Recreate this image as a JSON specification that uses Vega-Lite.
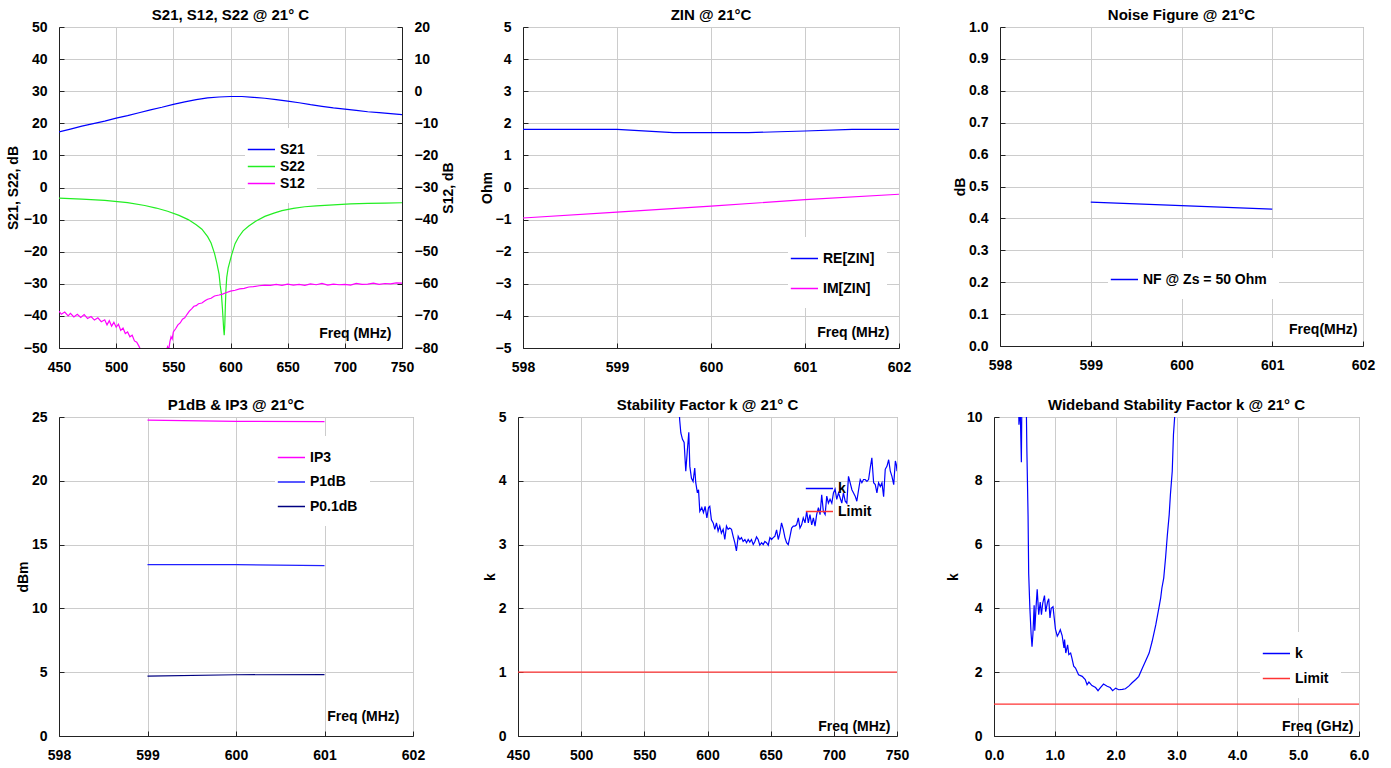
{
  "$schema": "https://vega.github.io/schema/vega-lite/v6.json",
  "background": "white",
  "padding": {"left": 5, "top": 7, "right": 5, "bottom": 5},
  "config": {
    "font": "Liberation Sans",
    "view": {"stroke": "#8c8c8c"},
    "title": {"fontSize": 15, "fontWeight": "bold", "color": "#000", "offset": -3, "font": "Liberation Sans"},
    "axis": {"labelFont": "Liberation Sans", "labelFontSize": 14, "labelFontWeight": "bold", "labelColor": "#000", "titleFont": "Liberation Sans", "titleFontSize": 14, "titleFontWeight": "bold", "titleColor": "#000", "gridColor": "#cccccc", "domainColor": "#222", "tickColor": "#222", "tickSize": -5, "labelPadding": 17, "labelFlush": false, "labelOverlap": false, "titlePadding": 1},
    "axisX": {"labelPadding": 17, "titleAlign": "right", "titleBaseline": "alphabetic", "titleAngle": 0},
    "legend": {"orient": "none", "title": null, "fillColor": "white", "padding": 12, "symbolType": "M-2.2,0H1", "symbolSize": 289, "symbolStrokeWidth": 1.5, "labelFont": "Liberation Sans", "labelFontSize": 14, "labelFontWeight": "bold", "labelColor": "#000", "labelOffset": 4, "zindex": 0}
  },
  "datasets": {
    "p1a": [
      {"f":450,"v":17.3,"s":"S21"},{"f":460,"v":18.2,"s":"S21"},{"f":470,"v":19.1,"s":"S21"},{"f":480,"v":19.9,"s":"S21"},{"f":490,"v":20.7,"s":"S21"},{"f":500,"v":21.6,"s":"S21"},{"f":510,"v":22.4,"s":"S21"},{"f":520,"v":23.3,"s":"S21"},{"f":530,"v":24.2,"s":"S21"},{"f":540,"v":25.0,"s":"S21"},{"f":550,"v":25.9,"s":"S21"},{"f":560,"v":26.7,"s":"S21"},{"f":570,"v":27.4,"s":"S21"},{"f":580,"v":27.9,"s":"S21"},{"f":590,"v":28.2,"s":"S21"},{"f":600,"v":28.35,"s":"S21"},{"f":610,"v":28.35,"s":"S21"},{"f":620,"v":28.1,"s":"S21"},{"f":630,"v":27.8,"s":"S21"},{"f":640,"v":27.4,"s":"S21"},{"f":650,"v":26.9,"s":"S21"},{"f":660,"v":26.4,"s":"S21"},{"f":670,"v":25.8,"s":"S21"},{"f":680,"v":25.3,"s":"S21"},{"f":690,"v":24.8,"s":"S21"},{"f":700,"v":24.4,"s":"S21"},{"f":710,"v":24.0,"s":"S21"},{"f":720,"v":23.6,"s":"S21"},{"f":730,"v":23.3,"s":"S21"},{"f":740,"v":23.0,"s":"S21"},{"f":750,"v":22.7,"s":"S21"},
      {"f":450,"v":-3.3,"s":"S22"},{"f":470,"v":-3.6,"s":"S22"},{"f":490,"v":-4.0,"s":"S22"},{"f":510,"v":-4.7,"s":"S22"},{"f":525,"v":-5.6,"s":"S22"},{"f":535,"v":-6.4,"s":"S22"},{"f":545,"v":-7.4,"s":"S22"},{"f":555,"v":-8.7,"s":"S22"},{"f":563,"v":-10,"s":"S22"},{"f":570,"v":-11.6,"s":"S22"},{"f":575,"v":-13,"s":"S22"},{"f":580,"v":-15.3,"s":"S22"},{"f":583,"v":-17.3,"s":"S22"},{"f":586,"v":-20.5,"s":"S22"},{"f":588,"v":-23.5,"s":"S22"},{"f":590,"v":-27,"s":"S22"},{"f":591,"v":-30.5,"s":"S22"},{"f":592,"v":-33,"s":"S22"},{"f":593,"v":-38,"s":"S22"},{"f":594,"v":-44,"s":"S22"},{"f":594.5,"v":-46,"s":"S22"},{"f":595,"v":-43,"s":"S22"},{"f":595.5,"v":-37,"s":"S22"},{"f":596,"v":-32,"s":"S22"},{"f":596.7,"v":-28,"s":"S22"},{"f":598,"v":-25,"s":"S22"},{"f":601,"v":-21,"s":"S22"},{"f":604,"v":-17.5,"s":"S22"},{"f":607,"v":-15.5,"s":"S22"},{"f":611,"v":-13.5,"s":"S22"},{"f":616,"v":-12,"s":"S22"},{"f":622,"v":-10.5,"s":"S22"},{"f":630,"v":-9,"s":"S22"},{"f":638,"v":-8,"s":"S22"},{"f":645,"v":-7.2,"s":"S22"},{"f":655,"v":-6.5,"s":"S22"},{"f":665,"v":-6,"s":"S22"},{"f":675,"v":-5.7,"s":"S22"},{"f":690,"v":-5.4,"s":"S22"},{"f":705,"v":-5.1,"s":"S22"},{"f":720,"v":-4.95,"s":"S22"},{"f":735,"v":-4.85,"s":"S22"},{"f":750,"v":-4.75,"s":"S22"}
    ],
    "p1b": [
      {"f":450,"v":-68.5,"s":"S12"},{"f":452,"v":-69.5,"s":"S12"},{"f":455,"v":-68.8,"s":"S12"},{"f":458,"v":-70,"s":"S12"},{"f":460,"v":-69.2,"s":"S12"},{"f":463,"v":-70.3,"s":"S12"},{"f":466,"v":-69.5,"s":"S12"},{"f":469,"v":-70.5,"s":"S12"},{"f":472,"v":-69.6,"s":"S12"},{"f":475,"v":-70.8,"s":"S12"},{"f":478,"v":-70.2,"s":"S12"},{"f":481,"v":-71.3,"s":"S12"},{"f":484,"v":-70.6,"s":"S12"},{"f":487,"v":-71.8,"s":"S12"},{"f":490,"v":-71.2,"s":"S12"},{"f":492,"v":-72.8,"s":"S12"},{"f":494,"v":-71.5,"s":"S12"},{"f":496,"v":-73.2,"s":"S12"},{"f":498,"v":-72,"s":"S12"},{"f":500,"v":-73.5,"s":"S12"},{"f":502,"v":-72.6,"s":"S12"},{"f":504,"v":-74.5,"s":"S12"},{"f":506,"v":-73.8,"s":"S12"},{"f":508,"v":-75.5,"s":"S12"},{"f":510,"v":-75,"s":"S12"},{"f":512,"v":-76.5,"s":"S12"},{"f":514,"v":-76,"s":"S12"},{"f":516,"v":-77.8,"s":"S12"},{"f":518,"v":-78.2,"s":"S12"},{"f":520,"v":-79.5,"s":"S12"},{"f":522,"v":-81,"s":"S12"},{"f":526,"v":-84,"s":"S12"},{"f":532,"v":-86,"s":"S12"},{"f":538,"v":-85,"s":"S12"},{"f":542,"v":-82,"s":"S12"},{"f":544,"v":-80.5,"s":"S12"},{"f":545,"v":-79.6,"s":"S12"},{"f":546,"v":-80.5,"s":"S12"},{"f":547,"v":-78,"s":"S12"},{"f":548,"v":-76.5,"s":"S12"},{"f":549,"v":-77.2,"s":"S12"},{"f":550,"v":-75,"s":"S12"},{"f":552,"v":-74,"s":"S12"},{"f":554,"v":-72.8,"s":"S12"},{"f":556,"v":-72.2,"s":"S12"},{"f":558,"v":-71,"s":"S12"},{"f":560,"v":-70.6,"s":"S12"},{"f":562,"v":-69.5,"s":"S12"},{"f":564,"v":-68.5,"s":"S12"},{"f":566,"v":-67.8,"s":"S12"},{"f":568,"v":-67,"s":"S12"},{"f":570,"v":-66.8,"s":"S12"},{"f":572,"v":-66.2,"s":"S12"},{"f":575,"v":-66,"s":"S12"},{"f":578,"v":-65.2,"s":"S12"},{"f":580,"v":-64.8,"s":"S12"},{"f":583,"v":-64.5,"s":"S12"},{"f":586,"v":-63.8,"s":"S12"},{"f":590,"v":-63.5,"s":"S12"},{"f":593,"v":-63.2,"s":"S12"},{"f":596,"v":-62.8,"s":"S12"},{"f":600,"v":-62.3,"s":"S12"},{"f":604,"v":-62,"s":"S12"},{"f":608,"v":-61.6,"s":"S12"},{"f":612,"v":-61.4,"s":"S12"},{"f":616,"v":-61,"s":"S12"},{"f":620,"v":-60.9,"s":"S12"},{"f":625,"v":-60.6,"s":"S12"},{"f":630,"v":-60.4,"s":"S12"},{"f":635,"v":-60.5,"s":"S12"},{"f":640,"v":-60.2,"s":"S12"},{"f":645,"v":-60.5,"s":"S12"},{"f":650,"v":-60.1,"s":"S12"},{"f":655,"v":-60.4,"s":"S12"},{"f":660,"v":-60.2,"s":"S12"},{"f":665,"v":-60.5,"s":"S12"},{"f":670,"v":-60,"s":"S12"},{"f":675,"v":-60.3,"s":"S12"},{"f":680,"v":-59.9,"s":"S12"},{"f":685,"v":-60.4,"s":"S12"},{"f":690,"v":-60.1,"s":"S12"},{"f":695,"v":-60.3,"s":"S12"},{"f":700,"v":-60.2,"s":"S12"},{"f":705,"v":-60.4,"s":"S12"},{"f":710,"v":-59.9,"s":"S12"},{"f":715,"v":-60.2,"s":"S12"},{"f":720,"v":-60.1,"s":"S12"},{"f":725,"v":-59.8,"s":"S12"},{"f":730,"v":-60.2,"s":"S12"},{"f":735,"v":-59.9,"s":"S12"},{"f":740,"v":-60,"s":"S12"},{"f":745,"v":-59.7,"s":"S12"},{"f":750,"v":-59.8,"s":"S12"}
    ],
    "p2": [
      {"f":598,"v":1.81,"s":"RE[ZIN]"},{"f":599,"v":1.81,"s":"RE[ZIN]"},{"f":599.6,"v":1.71,"s":"RE[ZIN]"},{"f":600.4,"v":1.71,"s":"RE[ZIN]"},{"f":601,"v":1.76,"s":"RE[ZIN]"},{"f":601.5,"v":1.81,"s":"RE[ZIN]"},{"f":602,"v":1.81,"s":"RE[ZIN]"},
      {"f":598,"v":-0.95,"s":"IM[ZIN]"},{"f":599,"v":-0.77,"s":"IM[ZIN]"},{"f":600,"v":-0.58,"s":"IM[ZIN]"},{"f":601,"v":-0.38,"s":"IM[ZIN]"},{"f":602,"v":-0.21,"s":"IM[ZIN]"}
    ],
    "p3": [
      {"f":599,"v":0.451,"s":"NF @ Zs = 50 Ohm"},{"f":600,"v":0.44,"s":"NF @ Zs = 50 Ohm"},{"f":601,"v":0.429,"s":"NF @ Zs = 50 Ohm"}
    ],
    "p4": [
      {"f":599,"v":24.76,"s":"IP3"},{"f":600,"v":24.66,"s":"IP3"},{"f":601,"v":24.63,"s":"IP3"},
      {"f":599,"v":13.43,"s":"P1dB"},{"f":600,"v":13.43,"s":"P1dB"},{"f":601,"v":13.35,"s":"P1dB"},
      {"f":599,"v":4.7,"s":"P0.1dB"},{"f":600,"v":4.8,"s":"P0.1dB"},{"f":601,"v":4.81,"s":"P0.1dB"}
    ],
    "p5": [
      {"f":450,"v":1,"s":"Limit"},{"f":750,"v":1,"s":"Limit"},
      {"f":577.0,"v":5.3,"s":"k"},{"f":578.0,"v":4.95,"s":"k"},{"f":578.9,"v":4.75,"s":"k"},{"f":580.2,"v":4.65,"s":"k"},{"f":581.5,"v":4.6,"s":"k"},{"f":582.8,"v":4.15,"s":"k"},{"f":584.1,"v":4.49,"s":"k"},{"f":585.2,"v":4.76,"s":"k"},{"f":586.0,"v":4.23,"s":"k"},{"f":587.3,"v":4.04,"s":"k"},{"f":588.6,"v":3.99,"s":"k"},{"f":589.9,"v":4.2,"s":"k"},{"f":590.7,"v":3.97,"s":"k"},{"f":592.0,"v":3.81,"s":"k"},{"f":592.9,"v":3.86,"s":"k"},{"f":593.9,"v":3.52,"s":"k"},{"f":595.5,"v":3.58,"s":"k"},{"f":596.8,"v":3.5,"s":"k"},{"f":598.1,"v":3.6,"s":"k"},{"f":599.5,"v":3.42,"s":"k"},{"f":600.8,"v":3.58,"s":"k"},{"f":601.8,"v":3.6,"s":"k"},{"f":603.1,"v":3.39,"s":"k"},{"f":604.5,"v":3.34,"s":"k"},{"f":605.8,"v":3.24,"s":"k"},{"f":607.1,"v":3.34,"s":"k"},{"f":608.4,"v":3.21,"s":"k"},{"f":609.7,"v":3.29,"s":"k"},{"f":611.0,"v":3.18,"s":"k"},{"f":612.4,"v":3.24,"s":"k"},{"f":613.7,"v":3.08,"s":"k"},{"f":615.0,"v":3.29,"s":"k"},{"f":616.3,"v":3.24,"s":"k"},{"f":617.6,"v":3.26,"s":"k"},{"f":619.0,"v":3.24,"s":"k"},{"f":620.3,"v":3.13,"s":"k"},{"f":621.6,"v":3.03,"s":"k"},{"f":622.9,"v":2.9,"s":"k"},{"f":624.3,"v":3.13,"s":"k"},{"f":625.6,"v":3.08,"s":"k"},{"f":626.9,"v":3.11,"s":"k"},{"f":628.2,"v":3.05,"s":"k"},{"f":629.6,"v":3.08,"s":"k"},{"f":630.9,"v":3.03,"s":"k"},{"f":632.2,"v":3.08,"s":"k"},{"f":633.5,"v":3.04,"s":"k"},{"f":634.8,"v":3.08,"s":"k"},{"f":636.2,"v":3.0,"s":"k"},{"f":637.5,"v":3.05,"s":"k"},{"f":638.8,"v":3.12,"s":"k"},{"f":640.1,"v":3.08,"s":"k"},{"f":641.4,"v":2.99,"s":"k"},{"f":642.8,"v":3.03,"s":"k"},{"f":644.1,"v":3.0,"s":"k"},{"f":645.4,"v":3.05,"s":"k"},{"f":646.7,"v":3.03,"s":"k"},{"f":648.1,"v":2.99,"s":"k"},{"f":649.4,"v":3.11,"s":"k"},{"f":650.7,"v":3.08,"s":"k"},{"f":652.0,"v":3.11,"s":"k"},{"f":653.3,"v":3.13,"s":"k"},{"f":654.7,"v":3.23,"s":"k"},{"f":656.0,"v":3.08,"s":"k"},{"f":657.3,"v":3.18,"s":"k"},{"f":658.6,"v":3.34,"s":"k"},{"f":660.0,"v":3.24,"s":"k"},{"f":661.3,"v":3.11,"s":"k"},{"f":662.6,"v":3.03,"s":"k"},{"f":663.9,"v":3.0,"s":"k"},{"f":665.3,"v":3.13,"s":"k"},{"f":666.6,"v":3.26,"s":"k"},{"f":667.9,"v":3.29,"s":"k"},{"f":669.2,"v":3.29,"s":"k"},{"f":670.5,"v":3.31,"s":"k"},{"f":671.9,"v":3.42,"s":"k"},{"f":673.2,"v":3.26,"s":"k"},{"f":674.5,"v":3.31,"s":"k"},{"f":675.8,"v":3.42,"s":"k"},{"f":677.2,"v":3.34,"s":"k"},{"f":678.5,"v":3.52,"s":"k"},{"f":679.8,"v":3.34,"s":"k"},{"f":681.1,"v":3.47,"s":"k"},{"f":682.5,"v":3.31,"s":"k"},{"f":683.8,"v":3.42,"s":"k"},{"f":685.1,"v":3.29,"s":"k"},{"f":686.4,"v":3.47,"s":"k"},{"f":687.8,"v":3.58,"s":"k"},{"f":689.1,"v":3.47,"s":"k"},{"f":690.4,"v":3.78,"s":"k"},{"f":691.7,"v":3.52,"s":"k"},{"f":693.1,"v":3.47,"s":"k"},{"f":694.4,"v":3.76,"s":"k"},{"f":695.7,"v":3.65,"s":"k"},{"f":697.0,"v":3.71,"s":"k"},{"f":698.4,"v":3.65,"s":"k"},{"f":699.7,"v":3.81,"s":"k"},{"f":701.0,"v":3.87,"s":"k"},{"f":702.3,"v":3.71,"s":"k"},{"f":703.7,"v":3.81,"s":"k"},{"f":705.0,"v":3.73,"s":"k"},{"f":706.3,"v":3.65,"s":"k"},{"f":707.6,"v":3.81,"s":"k"},{"f":709.0,"v":3.68,"s":"k"},{"f":710.3,"v":3.65,"s":"k"},{"f":711.6,"v":4.07,"s":"k"},{"f":712.9,"v":3.97,"s":"k"},{"f":714.3,"v":3.86,"s":"k"},{"f":715.6,"v":3.81,"s":"k"},{"f":716.9,"v":3.76,"s":"k"},{"f":718.2,"v":3.68,"s":"k"},{"f":719.6,"v":3.86,"s":"k"},{"f":720.9,"v":4.02,"s":"k"},{"f":722.2,"v":3.97,"s":"k"},{"f":723.5,"v":4.02,"s":"k"},{"f":724.8,"v":4.02,"s":"k"},{"f":726.2,"v":3.99,"s":"k"},{"f":727.5,"v":4.02,"s":"k"},{"f":728.8,"v":4.2,"s":"k"},{"f":730.1,"v":4.36,"s":"k"},{"f":731.5,"v":3.97,"s":"k"},{"f":732.8,"v":3.94,"s":"k"},{"f":734.1,"v":3.81,"s":"k"},{"f":735.4,"v":3.97,"s":"k"},{"f":736.8,"v":3.91,"s":"k"},{"f":738.1,"v":3.97,"s":"k"},{"f":739.4,"v":3.75,"s":"k"},{"f":740.7,"v":4.18,"s":"k"},{"f":742.1,"v":4.23,"s":"k"},{"f":743.4,"v":4.33,"s":"k"},{"f":744.7,"v":4.15,"s":"k"},{"f":746.0,"v":4.07,"s":"k"},{"f":747.4,"v":3.94,"s":"k"},{"f":748.7,"v":4.31,"s":"k"},{"f":749.5,"v":4.25,"s":"k"},{"f":750.0,"v":4.15,"s":"k"}
    ],
    "p6": [
      {"f":0,"v":1,"s":"Limit"},{"f":6,"v":1,"s":"Limit"},
      {"f":0.40,"v":11,"s":"k"},{"f":0.41,"v":9.76,"s":"k"},{"f":0.43,"v":10.3,"s":"k"},{"f":0.45,"v":8.58,"s":"k"},{"f":0.46,"v":11,"s":"k"},{"f":0.52,"v":12,"s":"k"},{"f":0.54,"v":9.0,"s":"k"},{"f":0.56,"v":6.9,"s":"k"},{"f":0.57,"v":5.1,"s":"k"},{"f":0.59,"v":4.0,"s":"k"},{"f":0.61,"v":3.2,"s":"k"},{"f":0.625,"v":2.8,"s":"k"},{"f":0.64,"v":3.2,"s":"k"},{"f":0.66,"v":4.1,"s":"k"},{"f":0.67,"v":3.3,"s":"k"},{"f":0.69,"v":4.0,"s":"k"},{"f":0.71,"v":4.6,"s":"k"},{"f":0.735,"v":3.8,"s":"k"},{"f":0.76,"v":4.2,"s":"k"},{"f":0.78,"v":3.8,"s":"k"},{"f":0.80,"v":4.15,"s":"k"},{"f":0.83,"v":4.4,"s":"k"},{"f":0.85,"v":3.9,"s":"k"},{"f":0.88,"v":4.2,"s":"k"},{"f":0.90,"v":4.3,"s":"k"},{"f":0.92,"v":3.7,"s":"k"},{"f":0.94,"v":4.0,"s":"k"},{"f":0.97,"v":4.05,"s":"k"},{"f":0.99,"v":3.7,"s":"k"},{"f":1.01,"v":3.35,"s":"k"},{"f":1.04,"v":3.13,"s":"k"},{"f":1.06,"v":3.2,"s":"k"},{"f":1.09,"v":3.33,"s":"k"},{"f":1.12,"v":3.15,"s":"k"},{"f":1.15,"v":2.76,"s":"k"},{"f":1.16,"v":3.02,"s":"k"},{"f":1.18,"v":2.6,"s":"k"},{"f":1.21,"v":2.86,"s":"k"},{"f":1.23,"v":2.55,"s":"k"},{"f":1.26,"v":2.6,"s":"k"},{"f":1.28,"v":2.45,"s":"k"},{"f":1.31,"v":2.19,"s":"k"},{"f":1.34,"v":2.13,"s":"k"},{"f":1.39,"v":1.92,"s":"k"},{"f":1.45,"v":1.87,"s":"k"},{"f":1.50,"v":1.77,"s":"k"},{"f":1.53,"v":1.61,"s":"k"},{"f":1.56,"v":1.69,"s":"k"},{"f":1.61,"v":1.58,"s":"k"},{"f":1.67,"v":1.52,"s":"k"},{"f":1.71,"v":1.42,"s":"k"},{"f":1.73,"v":1.47,"s":"k"},{"f":1.75,"v":1.52,"s":"k"},{"f":1.80,"v":1.63,"s":"k"},{"f":1.86,"v":1.56,"s":"k"},{"f":1.91,"v":1.52,"s":"k"},{"f":1.95,"v":1.42,"s":"k"},{"f":2.00,"v":1.5,"s":"k"},{"f":2.05,"v":1.45,"s":"k"},{"f":2.11,"v":1.46,"s":"k"},{"f":2.16,"v":1.48,"s":"k"},{"f":2.22,"v":1.57,"s":"k"},{"f":2.27,"v":1.67,"s":"k"},{"f":2.33,"v":1.77,"s":"k"},{"f":2.38,"v":1.87,"s":"k"},{"f":2.44,"v":2.13,"s":"k"},{"f":2.49,"v":2.34,"s":"k"},{"f":2.55,"v":2.6,"s":"k"},{"f":2.60,"v":2.97,"s":"k"},{"f":2.66,"v":3.49,"s":"k"},{"f":2.71,"v":4.01,"s":"k"},{"f":2.74,"v":4.33,"s":"k"},{"f":2.76,"v":4.64,"s":"k"},{"f":2.79,"v":4.95,"s":"k"},{"f":2.82,"v":5.58,"s":"k"},{"f":2.85,"v":6.31,"s":"k"},{"f":2.88,"v":6.94,"s":"k"},{"f":2.90,"v":7.57,"s":"k"},{"f":2.93,"v":8.3,"s":"k"},{"f":2.95,"v":9.45,"s":"k"},{"f":2.97,"v":10,"s":"k"},{"f":2.99,"v":11,"s":"k"}
    ]
  },
  "spacing": 22,
  "resolve": {"scale": {"color": "independent"}, "legend": {"color": "independent"}},
  "vconcat": [
    {
      "spacing": 41,
      "resolve": {"scale": {"color": "independent"}, "legend": {"color": "independent"}},
      "hconcat": [
        {
          "spacing": 22,
          "resolve": {"scale": {"color": "independent"}, "legend": {"color": "independent"}},
          "hconcat": [
            {
              "width": 343, "height": 321,
              "title": "S21, S12, S22 @ 21° C",
              "resolve": {"scale": {"y": "independent"}},
              "layer": [
                {
                  "data": {"name": "p1a"},
                  "mark": {"type": "line", "strokeWidth": 1.2, "clip": true},
                  "encoding": {
                    "x": {"field": "f", "type": "quantitative", "scale": {"domain": [450, 750], "nice": false}, "axis": {"values": [450, 500, 550, 600, 650, 700, 750], "title": "Freq (MHz)", "titleX": 332, "titleY": -11}},
                    "y": {"field": "v", "type": "quantitative", "scale": {"domain": [-50, 50], "nice": false}, "axis": {"values": [-50, -40, -30, -20, -10, 0, 10, 20, 30, 40, 50], "title": "S21, S22, dB", "titlePadding": 3}},
                    "color": {"field": "s", "type": "nominal", "scale": {"domain": ["S21", "S22", "S12"], "range": ["#0000ff", "#22ee22", "#ff00ff"]}, "legend": {"legendX": 186, "legendY": 101, "rowPadding": 0}}
                  }
                },
                {
                  "data": {"name": "p1b"},
                  "mark": {"type": "line", "strokeWidth": 1.2, "clip": true},
                  "encoding": {
                    "x": {"field": "f", "type": "quantitative"},
                    "y": {"field": "v", "type": "quantitative", "scale": {"domain": [-80, 20], "nice": false}, "axis": {"orient": "right", "grid": false, "values": [-80, -70, -60, -50, -40, -30, -20, -10, 0, 10, 20], "title": "S12, dB", "titleAngle": -90, "titleBaseline": "top", "titlePadding": 4}},
                    "color": {"field": "s", "type": "nominal"}
                  }
                }
              ]
            },
            {
              "width": 376, "height": 321,
              "title": "ZIN @ 21°C",
              "data": {"name": "p2"},
              "mark": {"type": "line", "strokeWidth": 1.2, "clip": true},
              "encoding": {
                "x": {"field": "f", "type": "quantitative", "scale": {"domain": [598, 602], "nice": false}, "axis": {"values": [598, 599, 600, 601, 602], "title": "Freq (MHz)", "titleX": 366, "titleY": -12}},
                "y": {"field": "v", "type": "quantitative", "scale": {"domain": [-5, 5], "nice": false}, "axis": {"values": [-5, -4, -3, -2, -1, 0, 1, 2, 3, 4, 5], "title": "Ohm"}},
                "color": {"field": "s", "type": "nominal", "scale": {"domain": ["RE[ZIN]", "IM[ZIN]"], "range": ["#0000ff", "#ff00ff"]}, "legend": {"legendX": 265, "legendY": 210, "rowPadding": 13}}
              }
            }
          ]
        },
        {
          "width": 363, "height": 319,
          "title": "Noise Figure @ 21°C",
          "data": {"name": "p3"},
          "mark": {"type": "line", "strokeWidth": 1.2, "clip": true},
          "encoding": {
            "x": {"field": "f", "type": "quantitative", "scale": {"domain": [598, 602], "nice": false}, "axis": {"values": [598, 599, 600, 601, 602], "title": "Freq(MHz)", "titleX": 357, "titleY": -13}},
            "y": {"field": "v", "type": "quantitative", "scale": {"domain": [0, 1], "nice": false}, "axis": {"values": [0, 0.1, 0.2, 0.3, 0.4, 0.5, 0.6, 0.7, 0.8, 0.9, 1], "format": ".1f", "title": "dB"}},
            "color": {"field": "s", "type": "nominal", "scale": {"domain": ["NF @ Zs = 50 Ohm"], "range": ["#0000ff"]}, "legend": {"legendX": 108, "legendY": 231, "rowPadding": 0}}
          }
        }
      ]
    },
    {
      "spacing": 35,
      "resolve": {"scale": {"color": "independent"}, "legend": {"color": "independent"}},
      "hconcat": [
        {
          "spacing": 56,
          "resolve": {"scale": {"color": "independent"}, "legend": {"color": "independent"}},
          "hconcat": [
            {
              "width": 354, "height": 319,
              "title": "P1dB & IP3 @ 21°C",
              "data": {"name": "p4"},
              "mark": {"type": "line", "strokeWidth": 1.2, "clip": true},
              "encoding": {
                "x": {"field": "f", "type": "quantitative", "scale": {"domain": [598, 602], "nice": false}, "axis": {"values": [598, 599, 600, 601, 602], "title": "Freq (MHz)", "titleX": 340, "titleY": -16}},
                "y": {"field": "v", "type": "quantitative", "scale": {"domain": [0, 25], "nice": false}, "axis": {"values": [0, 5, 10, 15, 20, 25], "title": "dBm"}},
                "color": {"field": "s", "type": "nominal", "scale": {"domain": ["IP3", "P1dB", "P0.1dB"], "range": ["#ff00ff", "#2020ff", "#000080"]}, "legend": {"legendX": 216, "legendY": 19, "rowPadding": 7.5}}
              }
            },
            {
              "width": 379, "height": 319,
              "title": "Stability Factor k @ 21° C",
              "data": {"name": "p5"},
              "mark": {"type": "line", "strokeWidth": 1.2, "clip": true},
              "encoding": {
                "x": {"field": "f", "type": "quantitative", "scale": {"domain": [450, 750], "nice": false}, "axis": {"values": [450, 500, 550, 600, 650, 700, 750], "title": "Freq (MHz)", "titleX": 372, "titleY": -6}},
                "y": {"field": "v", "type": "quantitative", "scale": {"domain": [0, 5], "nice": false}, "axis": {"values": [0, 1, 2, 3, 4, 5], "title": "k"}},
                "color": {"field": "s", "type": "nominal", "scale": {"domain": ["k", "Limit"], "range": ["#0000ff", "#ff3333"]}, "legend": {"legendX": 285, "legendY": 50, "rowPadding": 6, "fillColor": "transparent"}}
              }
            }
          ]
        },
        {
          "width": 365, "height": 319,
          "title": "Wideband Stability Factor k @ 21° C",
          "data": {"name": "p6"},
          "mark": {"type": "line", "strokeWidth": 1.2, "clip": true},
          "encoding": {
            "x": {"field": "f", "type": "quantitative", "scale": {"domain": [0, 6], "nice": false}, "axis": {"values": [0, 1, 2, 3, 4, 5, 6], "format": ".1f", "title": "Freq (GHz)", "titleX": 359, "titleY": -6}},
            "y": {"field": "v", "type": "quantitative", "scale": {"domain": [0, 10], "nice": false}, "axis": {"values": [0, 2, 4, 6, 8, 10], "title": "k", "titlePadding": 6}},
            "color": {"field": "s", "type": "nominal", "scale": {"domain": ["k", "Limit"], "range": ["#0000ff", "#ff3333"]}, "legend": {"legendX": 266, "legendY": 215, "rowPadding": 8}}
          }
        }
      ]
    }
  ]
}
